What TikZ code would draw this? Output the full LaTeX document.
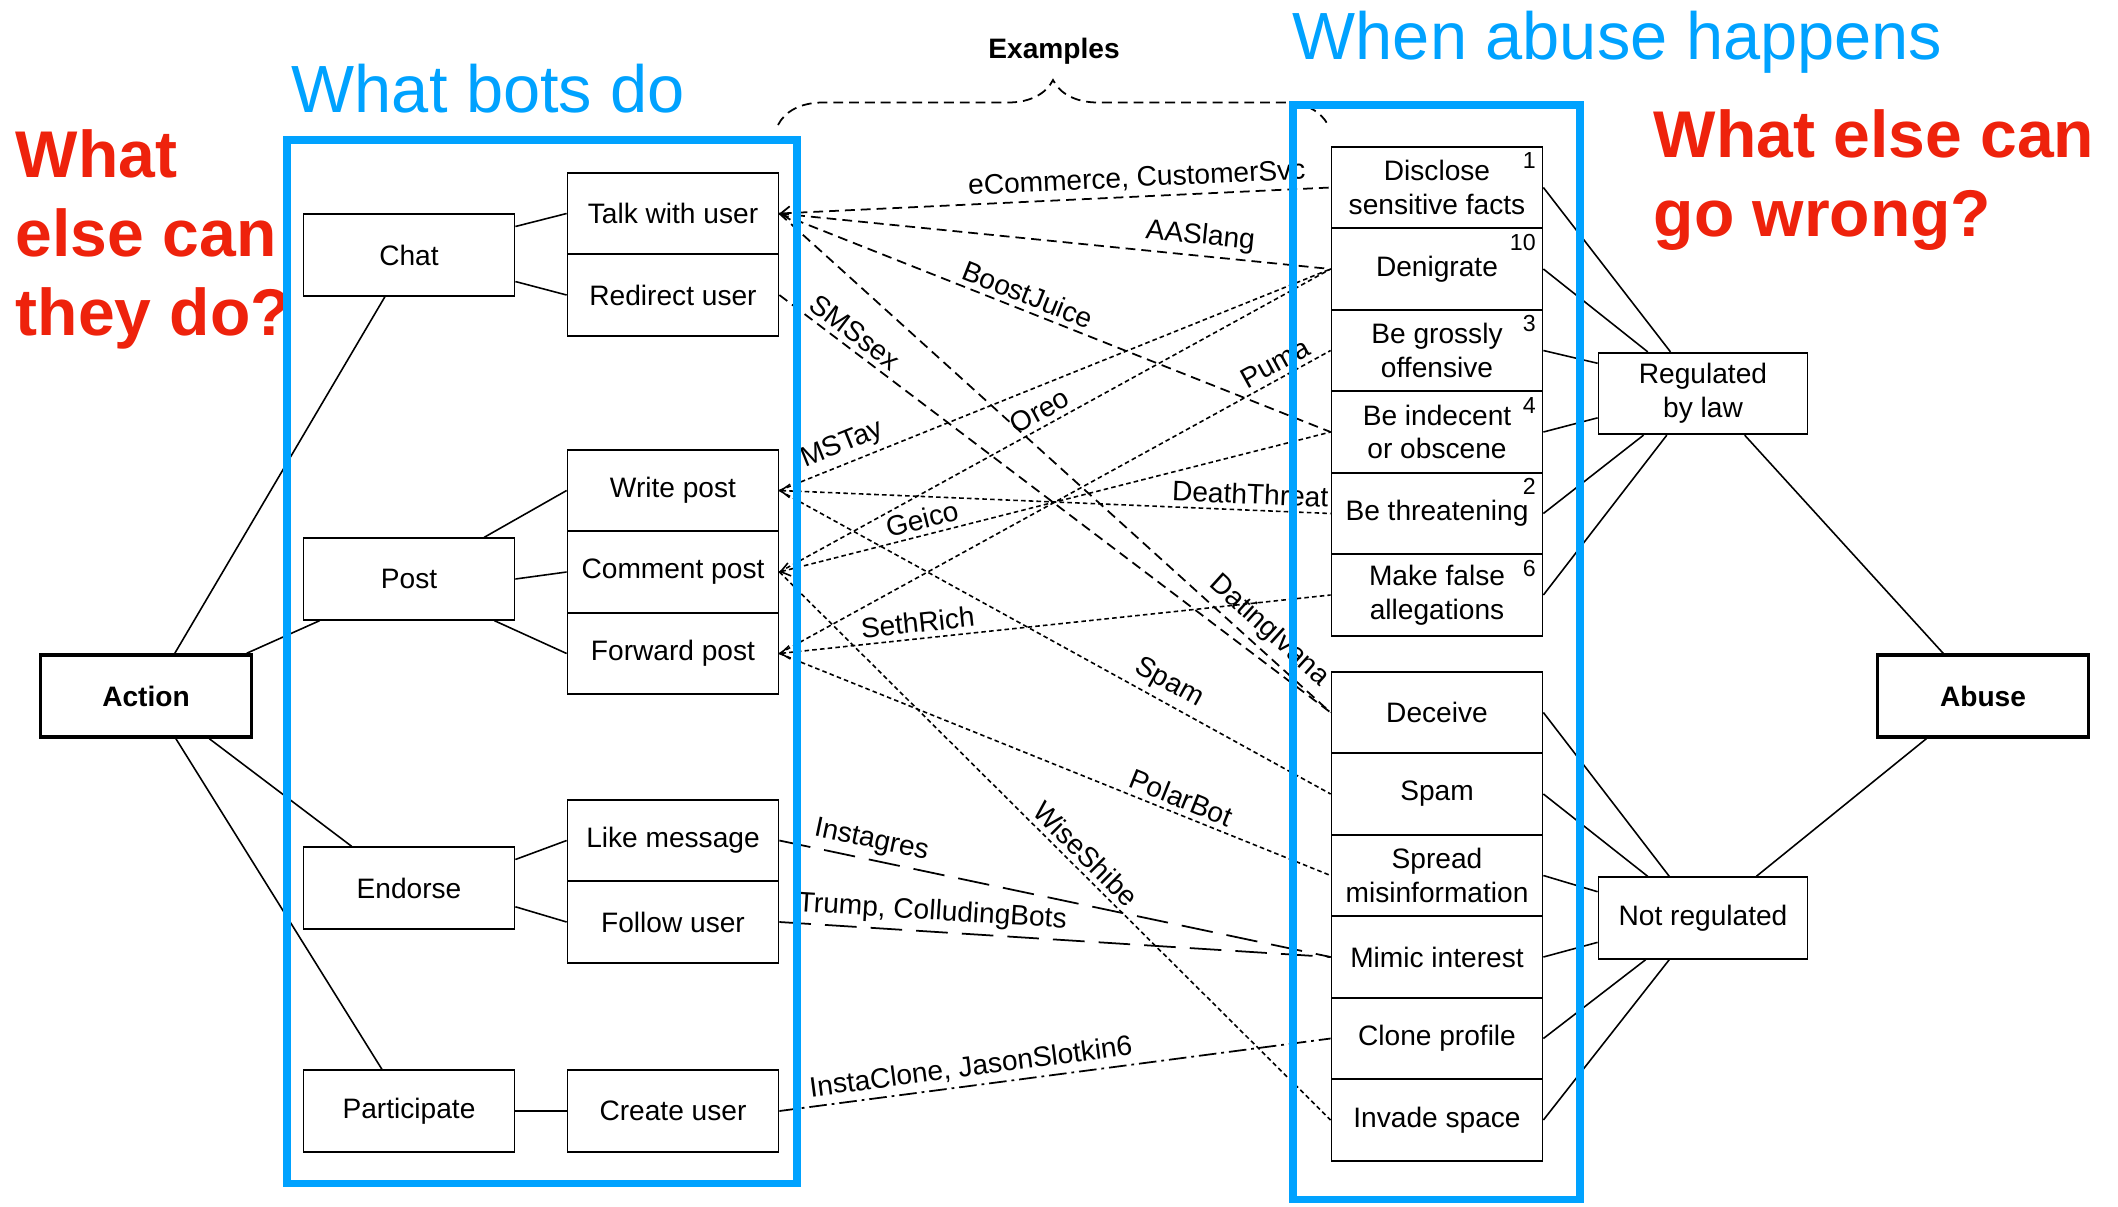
\documentclass[tikz,border=0pt]{standalone}
\usepackage{fontspec}
\setmainfont{Liberation Sans}
\usetikzlibrary{arrows.meta,decorations.pathreplacing}

\definecolor{kblue}{RGB}{0,162,255}
\definecolor{kred}{RGB}{238,34,12}

\tikzset{
  box/.style={draw, line width=0.5pt, minimum width=2.11cm, minimum height=0.815cm, inner sep=1pt, align=center, font=\fontsize{8}{9.6}\selectfont},
  endbox/.style={box, line width=1.1pt, font=\fontsize{8}{9.6}\selectfont\bfseries},
  num/.style={anchor=north east, inner sep=0pt, font=\fontsize{6.6}{7}\selectfont},
  link/.style={line width=0.45pt},
  eg/.style={line width=0.5pt, dash pattern=on 2.8pt off 1.7pt},
  egfine/.style={line width=0.45pt, dash pattern=on 1.3pt off 0.9pt},
  eglong/.style={line width=0.5pt, dash pattern=on 9pt off 4pt},
  egdot/.style={line width=0.5pt, dash pattern=on 5pt off 1.4pt on 0.8pt off 1.4pt},
  lbl/.style={sloped, above, inner sep=1.5pt, font=\fontsize{8}{9.6}\selectfont},
  arrowin/.style={{Straight Barb[length=2.6pt,width=3.8pt]}-},
  bluefr/.style={draw=kblue, line width=2pt},
  headline/.style={anchor=base west, inner sep=0pt, text=kblue, font=\fontsize{19}{22}\selectfont},
  ask/.style={anchor=north west, inner sep=0pt, align=left, text=kred, font=\fontsize{18.8}{22.5}\selectfont\bfseries},
}

\begin{document}
\begin{tikzpicture}
        \useasboundingbox (0,0) rectangle (21.18,-12.06);

        % what bots do
        \node[endbox] (action) at (1.46,-6.96) {Action};
        \node[box] (chat) at (4.09,-2.55) {Chat};
        \node[box] (post) at (4.09,-5.79) {Post};
        \node[box] (endorse) at (4.09,-8.88) {Endorse};
        \node[box] (participate) at (4.09,-11.11) {Participate};

        \node[box] (talk) at (6.73,-2.135) {Talk with user};
        \node[box] (redirect) at (6.73,-2.95) {Redirect user};
        \node[box] (write) at (6.73,-4.905) {Write post};
        \node[box] (comment) at (6.73,-5.72) {Comment post};
        \node[box] (forward) at (6.73,-6.535) {Forward post};
        \node[box] (like) at (6.73,-8.405) {Like message};
        \node[box] (follow) at (6.73,-9.22) {Follow user};
        \node[box] (create) at (6.73,-11.11) {Create user};

        % when abuse happens
        \node[box] (disclose) at (14.37,-1.875) {Disclose\\sensitive facts};
        \node[box] (denigrate) at (14.37,-2.69) {Denigrate};
        \node[box] (grossly) at (14.37,-3.505) {Be grossly\\offensive};
        \node[box] (indecent) at (14.37,-4.32) {Be indecent\\or obscene};
        \node[box] (threat) at (14.37,-5.135) {Be threatening};
        \node[box] (allege) at (14.37,-5.95) {Make false\\allegations};
        \node[box] (deceive) at (14.37,-7.125) {Deceive};
        \node[box] (spam) at (14.37,-7.94) {Spam};
        \node[box] (spread) at (14.37,-8.755) {Spread\\misinformation};
        \node[box] (mimic) at (14.37,-9.57) {Mimic interest};
        \node[box] (clone) at (14.37,-10.385) {Clone profile};
        \node[box] (invade) at (14.37,-11.20) {Invade space};

        \node[num] (disclose-n) at ([xshift=-0.07cm,yshift=-0.06cm]disclose.north east) {1};
        \node[num] (denigrate-n) at ([xshift=-0.07cm,yshift=-0.06cm]denigrate.north east) {10};
        \node[num] (grossly-n) at ([xshift=-0.07cm,yshift=-0.06cm]grossly.north east) {3};
        \node[num] (indecent-n) at ([xshift=-0.07cm,yshift=-0.06cm]indecent.north east) {4};
        \node[num] (threat-n) at ([xshift=-0.07cm,yshift=-0.06cm]threat.north east) {2};
        \node[num] (allege-n) at ([xshift=-0.07cm,yshift=-0.06cm]allege.north east) {6};

        \node[box, minimum width=2.09cm] (law) at (17.03,-3.935) {Regulated\\by law};
        \node[box, minimum width=2.09cm] (nolaw) at (17.03,-9.18) {Not regulated};
        \node[endbox] (abuse) at (19.83,-6.96) {Abuse};

        % tree on the left
        \draw[link] (action.56) -- (chat.240);
        \draw[link] (action.23) -- (post.205);
        \draw[link] (action.326) -- (endorse.144);
        \draw[link] (action.305) -- (participate.123);
        \draw[link] (chat.15) -- (talk.west);
        \draw[link] (chat.346) -- (redirect.west);
        \draw[link] (post.29) -- (write.west);
        \draw[link] (post.east) -- (comment.west);
        \draw[link] (post.334) -- (forward.west);
        \draw[link] (endorse.15) -- (like.west);
        \draw[link] (endorse.350) -- (follow.west);
        \draw[link] (participate) -- (create);

        % tree on the right
        \draw[link] (disclose.east) -- (law.128);
        \draw[link] (denigrate.east) -- (law.143);
        \draw[link] (grossly.east) -- (law.164);
        \draw[link] (indecent.east) -- (law.193);
        \draw[link] (threat.east) -- (law.215);
        \draw[link] (allege.east) -- (law.229);
        \draw[link] (law.315) -- (abuse.133);
        \draw[link] (deceive.east) -- (nolaw.129);
        \draw[link] (spam.east) -- (nolaw.143);
        \draw[link] (spread.east) -- (nolaw.166);
        \draw[link] (mimic.east) -- (nolaw.193);
        \draw[link] (clone.east) -- (nolaw.216);
        \draw[link] (invade.east) -- (nolaw.231);
        \draw[link] (nolaw.38) -- (abuse.217);

        % examples
        \draw[eg, arrowin] (talk.east) -- node[lbl, pos=0.65] {eCommerce, CustomerSvc} (disclose.west);
        \draw[eg] (talk.east) -- node[lbl, pos=0.76] {AASlang} (denigrate.west);
        \draw[eg] (talk.east) -- node[lbl, pos=0.44] {BoostJuice} (indecent.west);
        \draw[eg] (talk.east) -- node[lbl, pos=0.865] {DatingIvana} (deceive.west);
        \draw[eg] (redirect.east) -- node[lbl, pos=0.12] {SMSsex} (deceive.west);
        \draw[egfine] (write.east) -- node[lbl, pos=0.127] {MSTay} (denigrate.west);
        \draw[egfine, arrowin] (write.east) -- node[lbl, pos=0.853] {DeathThreat} (threat.west);
        \draw[egfine] (write.east) -- node[lbl, pos=0.69] {Spam} (spam.west);
        \draw[egfine] (comment.east) -- node[lbl, pos=0.486] {Oreo} (denigrate.west);
        \draw[egfine, arrowin] (comment.east) -- node[lbl, pos=0.266] {Geico} (indecent.west);
        \draw[egfine] (comment.east) -- node[lbl, pos=0.535] {WiseShibe} (invade.west);
        \draw[egfine] (forward.east) -- node[lbl, pos=0.913] {Puma} (grossly.west);
        \draw[egfine, arrowin] (forward.east) -- node[lbl, pos=0.254] {SethRich} (allege.west);
        \draw[egfine] (forward.east) -- node[lbl, pos=0.718] {PolarBot} (spread.west);
        \draw[eglong] (like.east) -- node[lbl, pos=0.16] {Instagres} (mimic.west);
        \draw[eglong] (follow.east) -- node[lbl, pos=0.275] {Trump, ColludingBots} (mimic.west);
        \draw[egdot] (create.east) -- node[lbl, pos=0.352] {InstaClone, JasonSlotkin6} (clone.west);

        \node[font=\fontsize{8}{9}\selectfont\bfseries] (examples) at (10.54,-0.51) {Examples};
        \draw[eg, decorate, decoration={brace, amplitude=0.45cm}] (7.78,-1.25) -- (13.28,-1.25);

        % headings
        \node[headline] (botsdo) at (2.91,-1.12) {What bots do};
        \node[headline] (abusehap) at (12.92,-0.59) {When abuse happens};
        \node[ask] (askleft) at (0.15,-1.29) {What\\else can\\they do?};
        \node[ask] (askright) at (16.53,-1.09) {What else can\\go wrong?};

        \draw[bluefr] (2.87,-1.40) rectangle (7.97,-11.83);
        \draw[bluefr] (12.93,-1.05) rectangle (15.80,-11.99);
\end{tikzpicture}
\end{document}
